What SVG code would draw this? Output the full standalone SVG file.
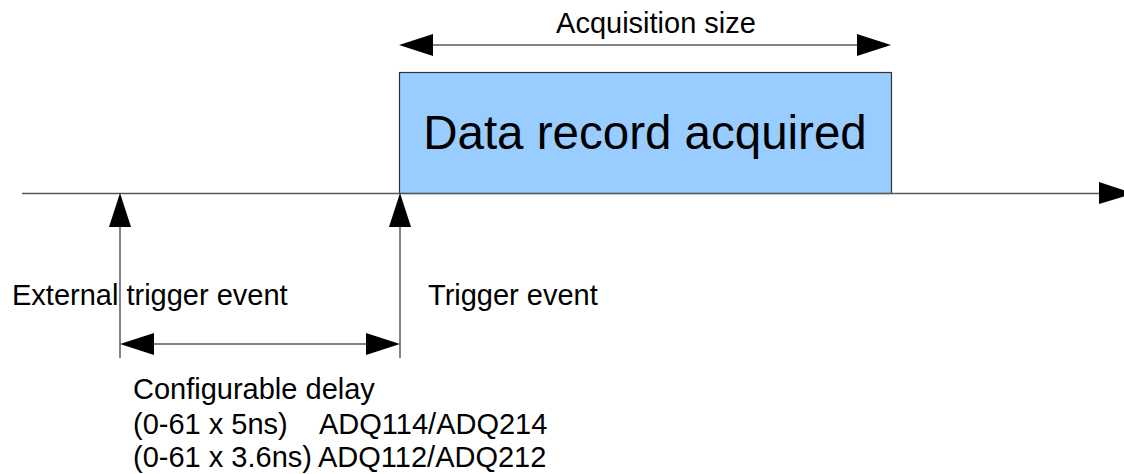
<svg xmlns="http://www.w3.org/2000/svg" width="1124" height="474" viewBox="0 0 1124 474">
<style>
.ln{stroke:#5a5a5a;stroke-width:1.5;fill:none}
.hd{fill:#000}
.t{font-family:"Liberation Sans",Arial,sans-serif;font-size:29px;fill:#000}
.big{font-family:"Liberation Sans",Arial,sans-serif;font-size:47.5px;fill:#000}
</style>
<rect width="1124" height="474" fill="#fff"/>
<g id="record">
<rect x="399.5" y="72.5" width="492" height="121" fill="#99ccff" stroke="#333" stroke-width="1.2"/>
<text class="big" x="645" y="149" text-anchor="middle">Data record acquired</text>
</g>
<g id="connectors">
<line class="ln" x1="22" y1="193.5" x2="1100" y2="193.5"/>
<polygon class="hd" points="1099,182 1134,193.5 1099,204"/>
<line class="ln" x1="432" y1="45" x2="858" y2="45"/>
<polygon class="hd" points="399,45 433,34 433,56"/>
<polygon class="hd" points="891,45 857,34 857,56"/>
<line class="ln" x1="120" y1="225" x2="120" y2="358"/>
<polygon class="hd" points="120,193 109,227 131,227"/>
<line class="ln" x1="400" y1="225" x2="400" y2="358"/>
<polygon class="hd" points="400,193 389,227 411,227"/>
<line class="ln" x1="152" y1="344" x2="368" y2="344"/>
<polygon class="hd" points="120,344 154,333 154,355"/>
<polygon class="hd" points="400,344 366,333 366,355"/>
</g>
<g id="labels">
<text class="t" x="656" y="33" text-anchor="middle">Acquisition size</text>
<text class="t" x="12" y="305">External trigger event</text>
<text class="t" x="428" y="305">Trigger event</text>
<text class="t" x="133" y="399">Configurable delay</text>
<text class="t" x="133" y="434">(0-61 x 5ns)</text>
<text class="t" x="319" y="434">ADQ114/ADQ214</text>
<text class="t" x="133" y="467">(0-61 x 3.6ns)</text>
<text class="t" x="318" y="467">ADQ112/ADQ212</text>
</g>
</svg>
